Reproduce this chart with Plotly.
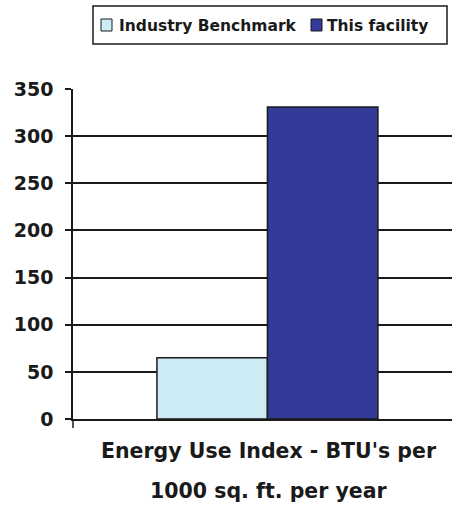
import plotly.graph_objects as go

# Energy Use Index comparison
category = ["Energy Use Index"]
series_names = ["Industry Benchmark", "This facility"]
series_values = [[65], [331]]
series_colors = ["#CDEBF4", "#343A98"]
y_ticks = [0, 50, 100, 150, 200, 250, 300, 350]
axis_title_lines = ["Energy Use Index - BTU's per", "1000 sq. ft. per year"]

FONT = "DejaVu Sans, Verdana, sans-serif"
INK = "#1a1a1a"

W, H = 453, 507
ML, MR, MT, MB = 73, 1, 89, 88
PW, PH = W - ML - MR, H - MT - MB


def px_x(x):
    """Pixel column -> paper x."""
    return (x - ML) / PW


def px_y(y):
    """Pixel row -> paper y."""
    return 1 - (y - MT) / PH


fig = go.Figure()
for name, vals, col in zip(series_names, series_values, series_colors):
    fig.add_trace(go.Bar(
        x=category, y=vals, name=name,
        marker=dict(color=col, line=dict(color=INK, width=1.5)),
    ))

fig.update_layout(
    width=W, height=H,
    margin=dict(l=ML, r=MR, t=MT, b=MB),
    paper_bgcolor="white", plot_bgcolor="white",
    barmode="group", bargap=0.417, bargroupgap=0,
    showlegend=False,
    font=dict(family=FONT, color=INK),
)

fig.update_xaxes(
    range=[-0.513, 0.487],
    showticklabels=False, showline=True, linecolor=INK, linewidth=1.5,
    ticks="", showgrid=False,
)
fig.update_yaxes(
    range=[0, 350], tickvals=y_ticks,
    showline=True, linecolor=INK, linewidth=1.5,
    showgrid=True, gridcolor=INK, gridwidth=1.5,
    ticks="outside", ticklen=6, tickcolor=INK, tickwidth=1.5,
    ticklabelstandoff=8,
    tickfont=dict(family=FONT, size=19, color=INK, weight="bold"),
    zeroline=False,
)

# small tick below the origin on the category axis
fig.add_shape(type="line", xref="paper", yref="paper",
              x0=0, x1=0, y0=0, y1=px_y(428),
              line=dict(color=INK, width=1.5))

# legend box with swatches
fig.add_shape(type="rect", xref="paper", yref="paper",
              x0=px_x(93), x1=px_x(447), y0=px_y(44), y1=px_y(6),
              line=dict(color=INK, width=1.5), fillcolor="white")
legend_items = [(101, 117), (311, 325)]
for (sx, tx), name, col in zip(legend_items, series_names, series_colors):
    fig.add_shape(type="rect", xref="paper", yref="paper",
                  x0=px_x(sx), x1=px_x(sx + 11), y0=px_y(31), y1=px_y(19),
                  line=dict(color=INK, width=1), fillcolor=col)
    fig.add_annotation(text=name, xref="paper", yref="paper",
                       x=px_x(tx), y=px_y(25.5), xanchor="left", yanchor="middle",
                       showarrow=False,
                       font=dict(family=FONT, size=15.5, color=INK, weight="bold"))

# category axis title, two lines
for line_text, cy in zip(axis_title_lines, [451, 491]):
    fig.add_annotation(
        text=line_text, xref="paper", yref="paper",
        x=px_x(269), y=px_y(cy), xanchor="center", yanchor="middle",
        showarrow=False,
        font=dict(family=FONT, size=20.5, color=INK, weight="bold"),
    )

fig.write_html("out.html")
